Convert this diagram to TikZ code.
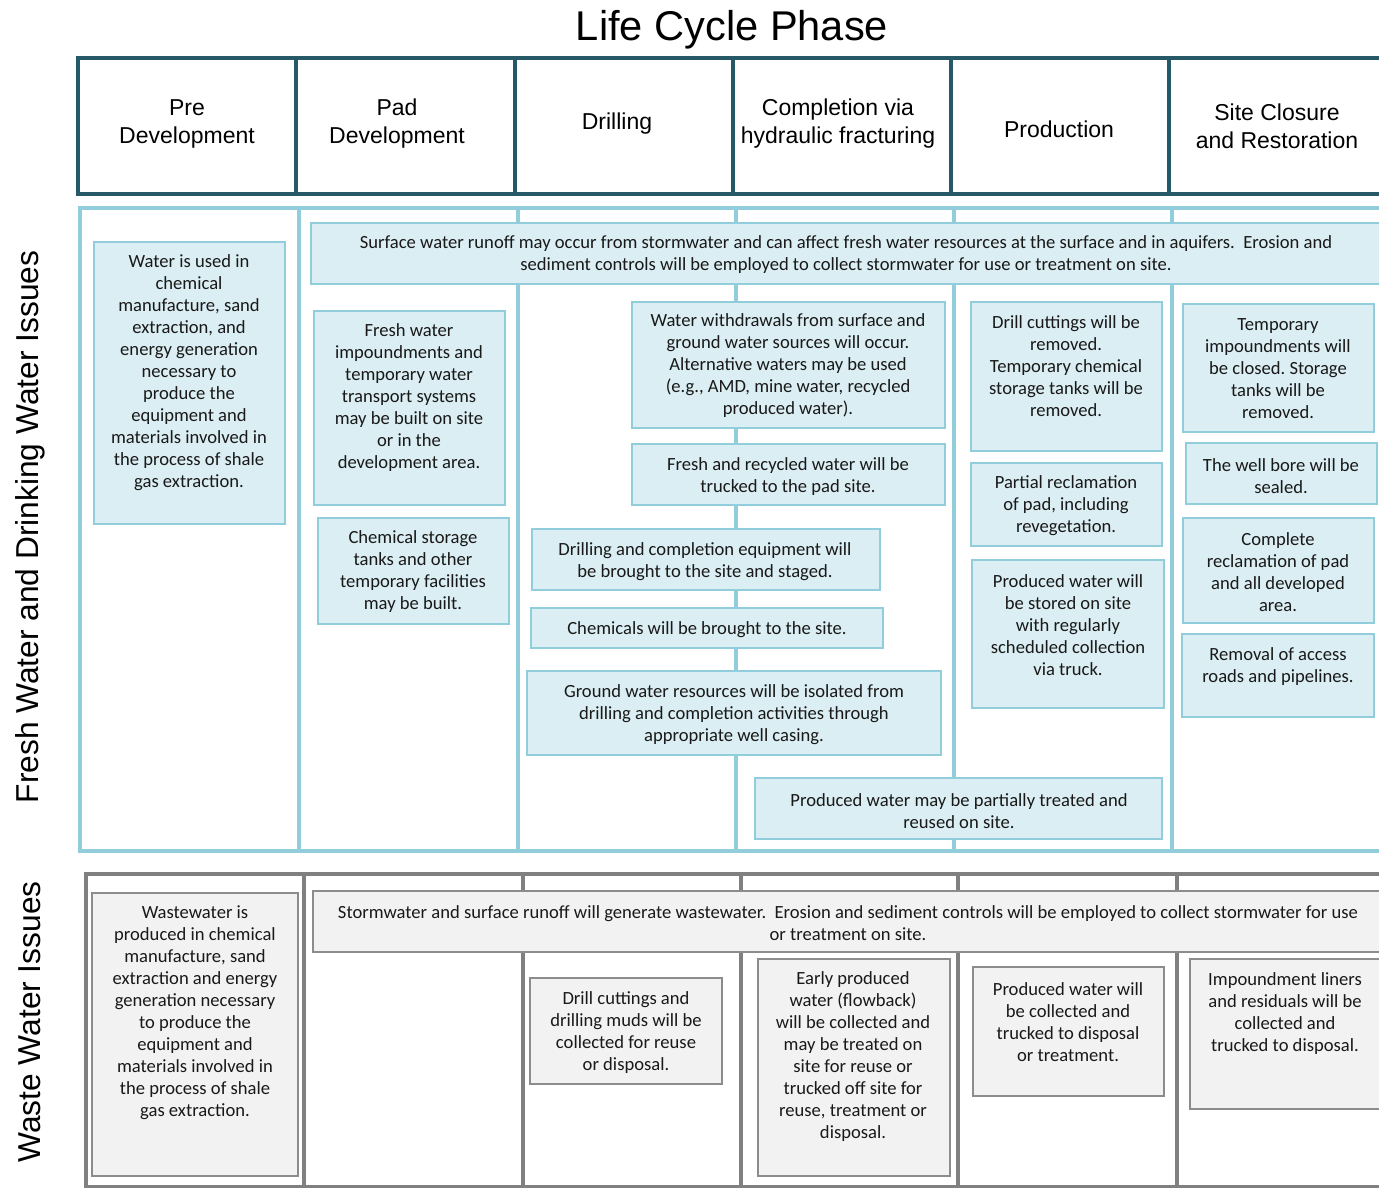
\documentclass[tikz,border=0pt]{standalone}
\usepackage{fontspec}
\setmainfont{Carlito}
\newfontfamily\arialf{Liberation Sans}
\definecolor{hdrc}{RGB}{38,89,104}
\definecolor{frc}{RGB}{146,205,220}
\definecolor{bfill}{RGB}{219,238,243}
\definecolor{wc}{RGB}{128,128,128}
\definecolor{gbord}{RGB}{140,140,140}
\definecolor{gfill}{RGB}{242,242,242}
\frenchspacing
\begin{document}
\begin{tikzpicture}[x=1pt,y=-1pt,
  hdrline/.style={draw=hdrc,line width=4.5pt},
  frline/.style={draw=frc,line width=4pt},
  wline/.style={draw=wc,line width=4pt},
  bluebox/.style={draw=frc,fill=bfill,line width=2pt},
  greybox/.style={draw=gbord,fill=gfill,line width=2pt},
  txt/.style={font=\fontsize{18.6}{22}\selectfont,align=center,inner sep=0pt,text=black!90,yshift=-2pt},
  hdrtxt/.style={font=\arialf\fontsize{23}{28}\selectfont,align=center,inner sep=0pt,yshift=-2pt},
  sidetxt/.style={font=\arialf\fontsize{31.7}{36}\selectfont,rotate=90,inner sep=0pt}]
\useasboundingbox (0,0) rectangle (1379,1188);
\clip (0,0) rectangle (1379,1188);
\fill[white] (0,0) rectangle (1379,1188);

% title and side labels
\node[font=\arialf\fontsize{41.6}{48}\selectfont,anchor=base,inner sep=0pt] (title) at (732,41) {Life Cycle Phase};
\node[sidetxt] (lblfresh) at (30,527) {Fresh Water and Drinking Water Issues};
\node[sidetxt] (lblwaste) at (30,1022) {Waste Water Issues};

% header table
\draw[hdrline] (1400,58) -- (78,58) -- (78,194) -- (1400,194);
\foreach \x in {296,515,733,951,1169} \draw[hdrline] (\x,58) -- (\x,194);
\node[hdrtxt] (hPre) at (187,122) {Pre\\Development};
\node[hdrtxt] (hPad) at (397,122) {Pad\\Development};
\node[hdrtxt] (hDrill) at (617,122) {Drilling};
\node[hdrtxt] (hComp) at (838,122) {Completion via\\hydraulic fracturing};
\node[hdrtxt] (hProd) at (1059,127) {Production};
\node[hdrtxt] (hSite) at (1277,124) {Site Closure\\and Restoration};

% fresh water section
\draw[frline] (1400,208) -- (80,208) -- (80,851) -- (1400,851);
\foreach \x in {299,518,736,954,1172} \draw[frline] (\x,208) -- (\x,851);

\draw[bluebox] (311,223) rectangle (1400,284);
\node[txt] (fA) at (846,253) {Surface water runoff may occur from stormwater and can affect fresh water resources at the surface and in aquifers.~ Erosion and\\sediment controls will be employed to collect stormwater for use or treatment on site.};

\draw[bluebox] (94,242) rectangle (285,524);
\node[txt] (fPre) at (189,371) {Water is used in\\chemical\\manufacture, sand\\extraction, and\\energy generation\\necessary to\\produce the\\equipment and\\materials involved in\\the process of shale\\gas extraction.};

\draw[bluebox] (314,311) rectangle (505,505);
\node[txt] (fB) at (409,396) {Fresh water\\impoundments and\\temporary water\\transport systems\\may be built on site\\or in the\\development area.};

\draw[bluebox] (318,518) rectangle (509,624);
\node[txt] (fC) at (413,570) {Chemical storage\\tanks and other\\temporary facilities\\may be built.};

\draw[bluebox] (632,302) rectangle (945,428);
\node[txt] (fD) at (788,364) {Water withdrawals from surface and\\ground water sources will occur.\\Alternative waters may be used\\(e.g., AMD, mine water, recycled\\produced water).};

\draw[bluebox] (632,444) rectangle (945,505);
\node[txt] (fE) at (788,475) {Fresh and recycled water will be\\trucked to the pad site.};

\draw[bluebox] (532,529) rectangle (880,590);
\node[txt] (fF) at (705,560) {Drilling and completion equipment will\\be brought to the site and staged.};

\draw[bluebox] (531,608) rectangle (883,648);
\node[txt] (fG) at (707,628) {Chemicals will be brought to the site.};

\draw[bluebox] (527,671) rectangle (941,755);
\node[txt] (fH) at (734,713) {Ground water resources will be isolated from\\drilling and completion activities through\\appropriate well casing.};

\draw[bluebox] (755,778) rectangle (1162,839);
\node[txt] (fI) at (959,809) {Produced water may be partially treated and\\reused on site.};

\draw[bluebox] (971,302) rectangle (1162,451);
\node[txt] (fJ) at (1066,364) {Drill cuttings will be\\removed.\\Temporary chemical\\storage tanks will be\\removed.};

\draw[bluebox] (971,463) rectangle (1162,546);
\node[txt] (fK) at (1066,504) {Partial reclamation\\of pad, including\\revegetation.};

\draw[bluebox] (972,560) rectangle (1164,708);
\node[txt] (fL) at (1068,623) {Produced water will\\be stored on site\\with regularly\\scheduled collection\\via truck.};

\draw[bluebox] (1183,304) rectangle (1374,432);
\node[txt] (fM) at (1278,367) {Temporary\\impoundments will\\be closed. Storage\\tanks will be\\removed.};

\draw[bluebox] (1186,443) rectangle (1377,504);
\node[txt] (fN) at (1281,474) {The well bore will be\\sealed.};

\draw[bluebox] (1183,518) rectangle (1374,623);
\node[txt] (fO) at (1278,570) {Complete\\reclamation of pad\\and all developed\\area.};

\draw[bluebox] (1182,634) rectangle (1374,717);
\node[txt] (fP) at (1278,665) {Removal of access\\roads and pipelines.};

% waste water section
\draw[wline] (1400,874) -- (86,874) -- (86,1187) -- (1400,1187);
\foreach \x in {304,523,741,958,1177} \draw[wline] (\x,874) -- (\x,1187);

\draw[greybox] (92,893) rectangle (298,1176);
\node[txt] (wQ) at (195,1011) {Wastewater is\\produced in chemical\\manufacture, sand\\extraction and energy\\generation necessary\\to produce the\\equipment and\\materials involved in\\the process of shale\\gas extraction.};

\draw[greybox] (313,891) rectangle (1400,952);
\node[txt] (wR) at (848,921) {Stormwater and surface runoff will generate wastewater.~ Erosion and sediment controls will be employed to collect stormwater for use\\or treatment on site.};

\draw[greybox] (530,978) rectangle (722,1084);
\node[txt] (wS) at (626,1031) {Drill cuttings and\\drilling muds will be\\collected for reuse\\or disposal.};

\draw[greybox] (758,959) rectangle (950,1176);
\node[txt] (wT) at (853,1055) {Early produced\\water (flowback)\\will be collected and\\may be treated on\\site for reuse or\\trucked off site for\\reuse, treatment or\\disposal.};

\draw[greybox] (973,967) rectangle (1164,1096);
\node[txt] (wU) at (1068,1020) {Produced water will\\be collected and\\trucked to disposal\\or treatment.};

\draw[greybox] (1190,959) rectangle (1400,1109);
\node[txt] (wV) at (1285,1012) {Impoundment liners\\and residuals will be\\collected and\\trucked to disposal.};
\end{tikzpicture}
\end{document}
